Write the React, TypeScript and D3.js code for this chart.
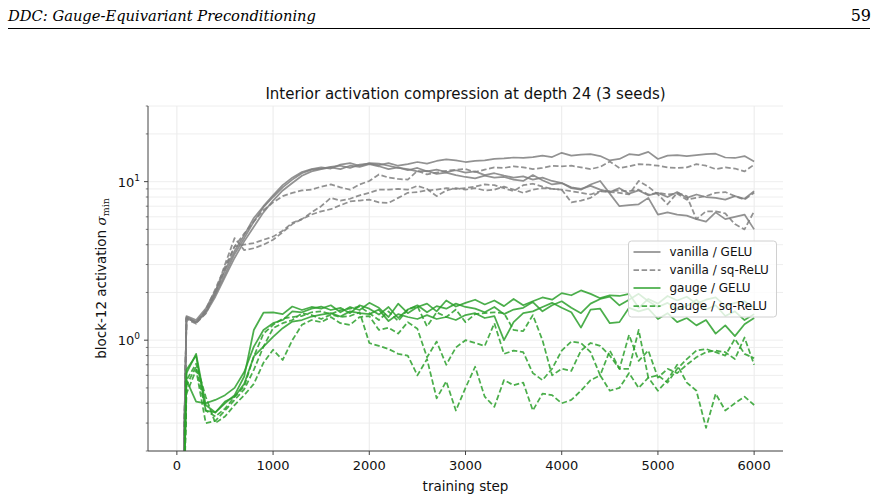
import { useRef, useEffect } from 'react';
import * as d3 from 'd3';

// training steps logged every 100
const steps = d3.range(0, 6100, 100);
const xTicks = [0, 1000, 2000, 3000, 4000, 5000, 6000];
const yMajor = [1, 10];
const yMinor = [0.2, 0.3, 0.4, 0.5, 0.6, 0.7, 0.8, 0.9, 2, 3, 4, 5, 6, 7, 8, 9, 20, 30];

// block-12 sigma_min, 3 seeds per config (first sample is effectively 0)
const vanillaGelu = [
  [0.001, 1.40, 1.31, 1.52, 1.95, 2.6, 3.5, 4.4, 5.6, 6.9,
    8.0, 9.2, 10.3, 11.3, 11.9, 12.1, 12.4, 12.6, 12.2, 12.8,
    13.0, 12.7, 13.1, 12.6, 12.9, 13.3, 13.0, 13.5, 13.8, 13.6,
    13.3, 13.5, 13.6, 13.9, 14.0, 14.2, 14.1, 14.3, 14.6, 14.3,
    15.2, 14.6, 14.8, 14.9, 14.5, 13.6, 13.9, 14.9, 14.7, 15.4,
    13.9, 14.6, 14.7, 14.5, 14.7, 14.9, 15.0, 14.2, 14.1, 14.5,
    13.4],
  [0.001, 1.38, 1.29, 1.48, 1.88, 2.5, 3.3, 4.2, 5.2, 6.4,
    7.6, 8.8, 9.8, 10.9, 11.6, 12.0, 12.3, 12.0, 12.6, 12.4,
    12.9, 12.5, 12.0, 12.3, 11.8, 12.2, 11.6, 11.9, 11.5, 11.8,
    11.4, 11.6, 11.0, 11.3, 10.9, 10.6, 10.8, 10.3, 10.6, 10.1,
    9.8, 9.2, 9.0, 9.4, 8.9, 8.6, 9.1, 8.4, 8.8, 8.2,
    8.5, 8.0, 8.6, 7.9, 8.3, 8.0, 7.9, 7.7, 8.1, 7.8,
    8.7],
  [0.001, 1.42, 1.34, 1.58, 2.05, 2.75, 3.65, 4.6, 5.9, 7.0,
    8.2, 9.5, 10.6, 11.5, 12.0, 12.3, 12.1, 12.8, 13.1, 12.6,
    13.1, 13.0, 12.6, 12.2, 12.0, 11.6, 11.7, 11.2, 11.4, 11.0,
    10.7, 10.5, 10.9, 10.6, 10.7, 10.3, 10.1, 11.0, 10.2, 9.6,
    9.8, 9.1, 8.9, 9.6, 10.1, 8.4, 7.0, 7.1, 7.2, 7.9,
    6.2, 6.4, 6.2, 6.1, 5.8, 5.6, 6.4, 5.8, 6.0, 6.2,
    5.0],
];

const vanillaSqRelu = [
  [0.001, 1.36, 1.27, 1.55, 2.1, 2.9, 3.9, 4.7, 5.6, 6.6,
    7.4, 8.1, 8.5, 8.8, 8.9, 9.3, 9.6, 9.2, 8.9, 9.6,
    10.1, 11.1, 10.6, 10.4, 10.3, 11.7, 11.1, 11.4, 11.7, 11.9,
    12.0, 11.5, 11.9, 12.3, 12.2, 12.5, 12.3, 12.0, 12.2, 12.6,
    12.5, 12.6, 12.3, 12.0, 12.4, 13.4, 12.2, 12.5, 12.9, 12.8,
    12.6, 12.3, 12.2, 12.3, 12.9, 12.6, 12.0, 12.3, 12.1, 11.6,
    12.8],
  [0.001, 1.37, 1.30, 1.52, 1.98, 2.8, 3.9, 4.0, 4.1, 4.3,
    4.5, 4.9, 5.5, 5.8, 6.4, 7.0, 7.9, 7.6, 7.8, 8.2,
    8.5, 8.9, 8.9, 9.0, 8.9, 9.4, 9.0, 8.1, 8.8, 9.1,
    8.9, 9.1, 8.8, 8.9, 9.3, 8.9, 8.5, 8.9, 9.1, 9.0,
    8.9, 8.7, 8.5, 8.3, 8.7, 8.7, 8.8, 8.7, 8.9, 8.3,
    8.5, 8.3, 8.4, 7.7, 7.9, 8.1, 8.5, 8.6, 8.1, 7.7,
    8.5],
  [0.001, 1.39, 1.28, 1.47, 2.0, 3.0, 4.4, 3.7, 3.8, 4.0,
    4.3, 4.8, 5.4, 5.8, 6.2, 6.5, 6.7, 7.1, 7.5, 7.6,
    7.7, 7.4, 7.35, 7.9, 8.5, 8.6, 8.8, 8.9, 9.1, 9.0,
    9.1, 9.3, 9.6, 9.5, 9.1, 8.7, 9.5, 9.7, 9.3, 9.0,
    8.9, 7.4, 7.6, 7.9, 8.7, 8.6, 8.5, 8.3, 10.1, 9.3,
    8.3, 7.2, 8.5, 8.1, 5.8, 6.5, 6.5, 6.3, 5.4, 5.0,
    6.5],
];

const gaugeGelu = [
  [0.001, 0.62, 0.82, 0.39, 0.35, 0.40, 0.45, 0.59, 1.16, 1.49,
    1.50, 1.46, 1.63, 1.55, 1.62, 1.58, 1.66, 1.50, 1.62, 1.55,
    1.72, 1.60, 1.40, 1.70, 1.48, 1.62, 1.70, 1.52, 1.78, 1.63,
    1.72, 1.80, 1.68, 1.78, 1.64, 1.82, 1.66, 1.76, 1.86, 1.80,
    1.98, 1.92, 2.06, 1.96, 1.84, 1.92, 1.90, 1.96, 1.60, 1.82,
    1.70, 1.90, 1.78, 1.88, 1.70, 1.80, 1.86, 1.64, 1.72, 1.76,
    1.60],
  [0.001, 0.56, 0.41, 0.40, 0.42, 0.45, 0.50, 0.63, 0.91, 1.16,
    1.28, 1.34, 1.52, 1.50, 1.58, 1.63, 1.55, 1.60, 1.48, 1.66,
    1.58, 1.45, 1.62, 1.38, 1.56, 1.66, 1.50, 1.64, 1.58, 1.70,
    1.62, 1.58, 1.50, 1.62, 1.46, 1.56, 1.60, 1.74, 1.52, 1.66,
    1.76, 1.60, 1.48, 1.70, 1.82, 1.88, 1.66, 1.80, 1.96, 1.76,
    1.62, 1.72, 1.56, 1.64, 1.80, 1.56, 1.66, 1.42, 1.52, 1.34,
    1.46],
  [0.001, 0.65, 0.80, 0.36, 0.35, 0.41, 0.44, 0.53, 0.79, 0.91,
    1.05, 1.19, 1.31, 1.34, 1.41, 1.45, 1.48, 1.41, 1.52, 1.48,
    1.46, 1.56, 1.32, 1.46, 1.40, 1.36, 1.44, 1.36, 1.40, 1.34,
    1.44, 1.48, 1.38, 1.42, 1.00, 1.30, 1.48, 1.52, 1.62, 1.72,
    1.60, 1.50, 1.20, 1.56, 1.58, 1.28, 1.30, 1.60, 1.52, 1.58,
    1.36, 1.48, 1.30, 1.38, 1.24, 1.34, 1.10, 1.24, 1.06, 1.26,
    1.38],
];

const gaugeSqRelu = [
  [0.001, 0.52, 0.68, 0.36, 0.33, 0.37, 0.44, 0.51, 0.79, 1.10,
    1.25, 1.37, 1.40, 1.42, 1.50, 1.52, 1.46, 1.55, 1.58, 1.63,
    1.48, 1.34, 1.52, 1.32, 1.56, 1.64, 1.22, 1.50, 1.40, 1.56,
    1.30, 1.46, 1.48, 1.50, 1.48, 1.16, 1.14, 1.44, 1.00, 0.60,
    0.66, 0.64, 0.86, 0.96, 0.92, 0.80, 0.66, 1.08, 0.74, 0.86,
    0.58, 0.66, 0.62, 0.70, 0.78, 0.84, 0.86, 0.84, 0.76, 1.04,
    0.70],
  [0.001, 0.56, 0.71, 0.44, 0.30, 0.33, 0.39, 0.45, 0.53, 0.72,
    0.87, 0.75, 1.00, 1.25, 1.34, 1.30, 1.40, 1.28, 1.25, 1.40,
    1.42, 1.16, 1.20, 1.10, 1.30, 1.18, 0.78, 0.98, 0.70, 0.90,
    1.00, 0.96, 0.92, 1.28, 0.82, 0.86, 0.84, 0.62, 0.56, 0.66,
    0.86, 0.98, 0.96, 0.84, 0.60, 0.86, 0.66, 0.66, 1.16, 0.58,
    0.60, 0.54, 0.66, 0.76, 0.86, 0.88, 0.84, 0.80, 1.02, 0.82,
    0.77],
  [0.001, 0.46, 0.65, 0.30, 0.31, 0.36, 0.42, 0.49, 0.65, 0.91,
    1.19, 1.28, 1.34, 1.48, 1.44, 1.36, 1.45, 1.40, 1.42, 1.50,
    0.96, 0.92, 0.88, 0.82, 0.80, 0.60, 0.76, 0.43, 0.55, 0.36,
    0.50, 0.68, 0.44, 0.38, 0.56, 0.52, 0.54, 0.36, 0.46, 0.45,
    0.40, 0.42, 0.48, 0.56, 0.60, 0.48, 0.50, 0.62, 0.50, 0.58,
    0.48, 0.56, 0.70, 0.54, 0.48, 0.28, 0.46, 0.36, 0.40, 0.44,
    0.39],
];

const GRAY = '#7f7f7f';
const GREEN = '#2ca02c';

const configs = [
  { label: 'vanilla / GELU', seeds: vanillaGelu, color: GRAY, dashed: false },
  { label: 'vanilla / sq-ReLU', seeds: vanillaSqRelu, color: GRAY, dashed: true },
  { label: 'gauge / GELU', seeds: gaugeGelu, color: GREEN, dashed: false },
  { label: 'gauge / sq-ReLU', seeds: gaugeSqRelu, color: GREEN, dashed: true },
];

const FONT = 'DejaVu Sans, sans-serif';

function Chart() {
  const svgRef = useRef(null);

  useEffect(() => {
    const svg = d3.select(svgRef.current);
    svg.selectAll('*').remove();

    const left = 148, right = 783, top = 106, bottom = 451;

    // page header
    svg.append('text')
      .attr('x', 8).attr('y', 21)
      .style('font-family', 'DejaVu Serif, serif').style('font-style', 'italic')
      .style('font-size', '15px')
      .attr('textLength', 308).attr('lengthAdjust', 'spacingAndGlyphs')
      .text('DDC: Gauge-Equivariant Preconditioning');
    svg.append('text')
      .attr('x', 871).attr('y', 21).attr('text-anchor', 'end')
      .style('font-family', 'DejaVu Serif, serif').style('font-size', '16px')
      .text('59');
    svg.append('line')
      .attr('x1', 8).attr('x2', 870).attr('y1', 28.5).attr('y2', 28.5)
      .attr('stroke', '#000').attr('stroke-width', 1);

    const x = d3.scaleLinear().domain([-300, 6300]).range([left, right]);
    const y = d3.scaleLog().domain([0.2, 30]).range([bottom, top]);

    // grid
    const grid = svg.append('g');
    grid.selectAll('.gx').data(xTicks).enter().append('line')
      .attr('x1', d => x(d)).attr('x2', d => x(d))
      .attr('y1', top).attr('y2', bottom)
      .attr('stroke', '#e8e8e8').attr('stroke-width', 0.9);
    grid.selectAll('.gy').data(yMajor.concat(yMinor)).enter().append('line')
      .attr('x1', left).attr('x2', right)
      .attr('y1', d => y(d)).attr('y2', d => y(d))
      .attr('stroke', '#ececec').attr('stroke-width', 0.9);

    svg.append('clipPath').attr('id', 'plot-clip')
      .append('rect').attr('x', left).attr('y', top)
      .attr('width', right - left).attr('height', bottom - top);

    const line = d3.line<number>()
      .x((d, i) => x(steps[i]))
      .y(d => y(d));

    const plot = svg.append('g').attr('clip-path', 'url(#plot-clip)');
    configs.forEach(c => {
      c.seeds.forEach(s => {
        plot.append('path')
          .attr('d', line(s))
          .attr('fill', 'none')
          .attr('stroke', c.color)
          .attr('stroke-opacity', 0.85)
          .attr('stroke-width', 1.75)
          .attr('stroke-linejoin', 'round')
          .attr('stroke-dasharray', c.dashed ? '5.5,2.6' : null);
      });
    });

    // axes
    const axisColor = '#444';
    svg.append('line').attr('x1', left).attr('x2', left).attr('y1', top).attr('y2', bottom)
      .attr('stroke', axisColor).attr('stroke-width', 1);
    svg.append('line').attr('x1', left).attr('x2', right).attr('y1', bottom).attr('y2', bottom)
      .attr('stroke', axisColor).attr('stroke-width', 1);

    svg.selectAll('.xt').data(xTicks).enter().append('line')
      .attr('x1', d => x(d)).attr('x2', d => x(d))
      .attr('y1', bottom).attr('y2', bottom + 4)
      .attr('stroke', axisColor).attr('stroke-width', 1);
    svg.selectAll('.xl').data(xTicks).enter().append('text')
      .attr('x', d => x(d)).attr('y', bottom + 19)
      .attr('text-anchor', 'middle')
      .style('font-family', FONT).style('font-size', '13px').attr('fill', '#111')
      .text(d => String(d));

    svg.selectAll('.ytM').data(yMajor).enter().append('line')
      .attr('x1', left - 4).attr('x2', left)
      .attr('y1', d => y(d)).attr('y2', d => y(d))
      .attr('stroke', axisColor).attr('stroke-width', 1);
    svg.selectAll('.ytm').data(yMinor).enter().append('line')
      .attr('x1', left - 2.2).attr('x2', left)
      .attr('y1', d => y(d)).attr('y2', d => y(d))
      .attr('stroke', axisColor).attr('stroke-width', 0.7);

    yMajor.forEach(v => {
      const t = svg.append('text')
        .attr('x', left - 8).attr('y', y(v) + 5)
        .attr('text-anchor', 'end')
        .style('font-family', FONT).style('font-size', '13px').attr('fill', '#111');
      t.append('tspan').text('10');
      t.append('tspan').attr('dy', -6).style('font-size', '9px').text(String(Math.round(Math.log10(v))));
    });

    // labels
    svg.append('text')
      .attr('x', (left + right) / 2).attr('y', 99)
      .attr('text-anchor', 'middle')
      .style('font-family', FONT).style('font-size', '15px').attr('fill', '#111')
      .text('Interior activation compression at depth 24 (3 seeds)');

    svg.append('text')
      .attr('x', (left + right) / 2).attr('y', 491)
      .attr('text-anchor', 'middle')
      .style('font-family', FONT).style('font-size', '13.5px').attr('fill', '#111')
      .text('training step');

    const yl = svg.append('text')
      .attr('transform', `translate(106,${(top + bottom) / 2}) rotate(-90)`)
      .attr('text-anchor', 'middle')
      .style('font-family', FONT).style('font-size', '13.5px').attr('fill', '#111');
    yl.append('tspan').text('block-12 activation ');
    yl.append('tspan').style('font-family', 'DejaVu Serif, serif').style('font-style', 'italic').text('σ');
    yl.append('tspan').attr('dy', 3).style('font-family', 'DejaVu Serif, serif').style('font-size', '9.5px').text('min');

    // legend
    const lg = svg.append('g').attr('transform', 'translate(628.5,241)');
    lg.append('rect')
      .attr('width', 148).attr('height', 76).attr('rx', 3)
      .attr('fill', '#fff').attr('fill-opacity', 0.8)
      .attr('stroke', '#d0d0d0').attr('stroke-width', 1);
    configs.forEach((c, i) => {
      const cy = 11 + i * 18;
      lg.append('line')
        .attr('x1', 5).attr('x2', 32).attr('y1', cy).attr('y2', cy)
        .attr('stroke', c.color).attr('stroke-opacity', 0.85).attr('stroke-width', 1.75)
        .attr('stroke-dasharray', c.dashed ? '5.5,2.6' : null);
      lg.append('text')
        .attr('x', 41).attr('y', cy + 4.3)
        .style('font-family', FONT).style('font-size', '12px').attr('fill', '#111')
        .text(c.label);
    });
  }, []);

  return <svg ref={svgRef} width={877} height={501} style={{ position: 'absolute', left: 0, top: 0, background: '#fff' }} />;
}

export default function App() {
  return <Chart />;
}
